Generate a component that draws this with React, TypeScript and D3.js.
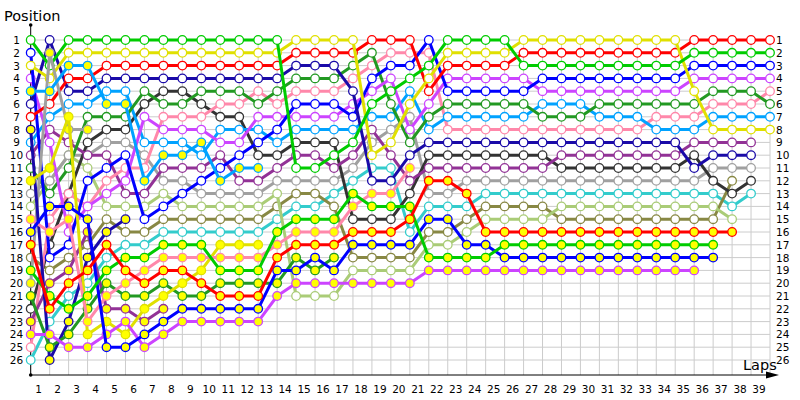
import React from "react";
import * as d3 from "d3";

const N = null;
// positions per column (col 0 = grid, then laps 1..39)
const G  = [1,3,1,1,1,1,1,1,1,1,1,1,1,1,11,11,10,9,6,5,4,3,1,1,1,1,3,3,3,3,3,3,3,3,3,2,2,2,2,2];
const Y  = [3,4,2,2,2,2,2,2,2,2,2,2,2,2,1,1,1,1,10,9,6,4,2,2,2,2,1,1,1,1,1,1,1,1,1,5,8,8,8,8];
const R  = [7,6,4,4,3,3,3,3,3,3,3,3,3,3,2,2,2,2,1,1,1,5,3,3,3,3,2,2,2,2,2,2,2,2,2,1,1,1,1,1];
const NV = [6,1,5,5,4,4,4,4,4,4,4,4,4,4,3,3,3,5,12,12,10,9,9,9,9,9,9,9,9,9,9,9,9,9,9,11,10,10,10,N];
const B  = [2,18,17,12,11,10,15,14,13,12,11,10,9,8,6,6,6,7,4,3,3,1,5,5,5,5,5,4,4,4,4,4,4,4,4,3,3,3,3,3];
const P  = [4,9,16,14,13,12,7,8,8,8,9,9,7,7,7,7,7,6,5,4,8,6,4,4,4,4,4,5,5,5,5,5,5,5,5,4,4,4,4,4];
const DG = [11,13,11,7,7,7,5,6,6,5,5,5,6,5,4,4,4,3,2,6,9,7,6,6,6,6,6,7,7,7,6,6,6,6,6,6,5,5,5,6];
const LB = [9,7,6,6,5,5,9,9,9,10,8,8,8,9,8,8,8,8,7,7,5,8,7,7,7,7,7,6,6,6,7,7,7,8,8,8,7,7,7,7];
const PK = [25,15,13,14,12,11,11,7,7,7,6,6,5,6,5,5,5,4,3,2,2,2,8,8,8,8,8,8,8,8,8,8,8,7,7,7,6,6,6,5];
const DP = [10,8,9,10,10,13,13,11,11,11,10,12,12,11,10,10,11,10,8,10,12,11,11,11,11,11,11,11,10,10,10,10,10,10,10,9,9,9,9,N];
const DK = [22,17,13,9,8,8,6,5,5,6,7,7,10,10,9,9,9,15,15,15,13,10,10,10,10,10,10,10,11,11,11,11,11,11,11,10,12,13,12,N];
const GR = [13,12,10,10,9,9,10,12,12,13,13,13,13,12,12,12,12,11,9,8,7,13,13,12,12,12,12,12,12,12,12,12,12,12,12,12,11,11,11,N];
const T  = [26,23,21,20,18,17,17,16,16,16,16,16,16,15,14,14,13,12,11,11,16,14,14,14,13,13,13,13,13,13,13,13,13,13,13,13,13,14,13,N];
const LO = [14,12,10,11,14,14,14,13,14,14,14,14,14,13,21,21,21,19,19,19,19,17,17,16,15,15,15,15,14,14,14,14,14,14,14,14,14,15,N,N];
const OL = [18,19,18,17,15,16,16,15,15,15,15,15,15,14,13,13,14,18,18,18,18,16,16,15,14,14,14,14,15,15,15,15,15,15,15,15,15,12,N,N];
const PKY = [15,16,15,23,21,20,19,18,18,18,18,18,18,17,16,16,16,14,13,13,11,N,N,N,N,N,N,N,N,N,N,N,N,N,N,N,N,N,N,N];
const RY = [17,22,20,19,17,19,20,19,19,20,21,21,21,18,17,17,17,16,16,16,15,12,12,13,16,16,16,16,16,16,16,16,16,16,16,16,16,16,N,N];
const GY = [19,21,22,21,19,18,18,17,17,17,19,19,19,16,15,15,15,13,14,14,14,18,18,18,18,17,17,17,17,17,17,17,17,17,17,17,17,N,N,N];
const BY = [16,14,14,15,25,25,24,23,22,22,22,22,22,19,19,18,19,17,17,17,17,15,15,17,17,18,18,18,18,18,18,18,18,18,18,18,18,N,N,N];
const PY = [24,24,25,25,24,23,25,24,23,23,23,23,23,21,20,20,20,20,20,20,20,19,19,19,19,19,19,19,19,19,19,19,19,19,19,19,N,N,N,N];
const YY = [12,11,7,24,23,24,22,21,20,19,17,17,17,N,N,N,N,N,N,N,N,N,N,N,N,N,N,N,N,N,N,N,N,N,N,N,N,N,N,N];
const DGY = [21,25,24,22,20,21,21,20,21,21,20,20,20,20,18,19,18,N,N,N,N,N,N,N,N,N,N,N,N,N,N,N,N,N,N,N,N,N,N,N];
const LBY = [5,5,3,3,6,6,12,10,10,9,12,11,11,N,N,N,N,N,N,N,N,N,N,N,N,N,N,N,N,N,N,N,N,N,N,N,N,N,N,N];
const NVY = [8,26,23,18,16,15,N,N,N,N,N,N,N,N,N,N,N,N,N,N,N,N,N,N,N,N,N,N,N,N,N,N,N,N,N,N,N,N,N,N];
const DPY = [23,20,19,16,22,22,23,22,N,N,N,N,N,N,N,N,N,N,N,N,N,N,N,N,N,N,N,N,N,N,N,N,N,N,N,N,N,N,N,N];
const GRY = [20,2,8,8,N,N,N,N,N,N,N,N,N,N,N,N,N,N,N,N,N,N,N,N,N,N,N,N,N,N,N,N,N,N,N,N,N,N,N,N];

const lapLabels = d3.range(1, 40);
const positions = d3.range(1, 27);

const WHITE = "#ffffff";
const YEL = "#ffff00";
const series = [
  { data: T, color: "#33cccc", fill: WHITE },
  { data: OL, color: "#888844", fill: WHITE },
  { data: LO, color: "#aacc77", fill: WHITE },
  { data: GR, color: "#a0a0a0", fill: WHITE },
  { data: DK, color: "#333333", fill: WHITE },
  { data: DP, color: "#923296", fill: WHITE },
  { data: PK, color: "#ff88aa", fill: WHITE },
  { data: LB, color: "#00a2ff", fill: WHITE },
  { data: DG, color: "#229922", fill: WHITE },
  { data: P, color: "#cc44ff", fill: WHITE },
  { data: B, color: "#0000ff", fill: WHITE },
  { data: NV, color: "#1a0aa8", fill: WHITE },
  { data: R, color: "#ff0000", fill: WHITE },
  { data: Y, color: "#e0e000", fill: WHITE },
  { data: G, color: "#00cc00", fill: WHITE },
  { data: GRY, color: "#a0a0a0", fill: YEL },
  { data: DPY, color: "#923296", fill: YEL },
  { data: NVY, color: "#1a0aa8", fill: YEL },
  { data: LBY, color: "#00a2ff", fill: YEL },
  { data: DGY, color: "#229922", fill: YEL },
  { data: YY, color: "#e0e000", fill: YEL },
  { data: PKY, color: "#ff88aa", fill: YEL },
  { data: PY, color: "#cc44ff", fill: YEL },
  { data: BY, color: "#0000ff", fill: YEL },
  { data: GY, color: "#00cc00", fill: YEL },
  { data: RY, color: "#ff0000", fill: YEL },
];

export default function App() {
  const W = 800, H = 400;
  const x = d3.scaleLinear().domain([0, 39]).range([30.7, 770]);
  const y = d3.scaleLinear().domain([1, 26]).range([40, 360]);
  const axisY = 375;
  const line = d3
    .line<[number, number | null]>()
    .defined((d) => d[1] != null)
    .x((d) => x(d[0]))
    .y((d) => y(d[1] as number));
  const cols = d3.range(0, 40);
  return (
    <svg width={W} height={H} style={{ position: "absolute", left: 0, top: 0, background: "#fff" }} fontFamily="DejaVu Sans">
      <rect x={0} y={0} width={W} height={H} fill="#fff" />
      {positions.map((p) => (
        <line key={"h" + p} x1={x(0)} x2={x(39)} y1={y(p)} y2={y(p)} stroke="#cccccc" strokeWidth={1} />
      ))}
      {cols.map((c) => (
        <line key={"v" + c} x1={x(c)} x2={x(c)} y1={y(1)} y2={axisY} stroke="#cccccc" strokeWidth={1} />
      ))}
      <line x1={x(0)} x2={x(0)} y1={25} y2={axisY} stroke="#000" strokeWidth={1} />
      <circle cx={x(0)} cy={25} r={1.8} fill="#000" />
      <circle cx={x(0)} cy={axisY} r={1.8} fill="#000" />
      <line x1={x(0)} x2={772} y1={axisY} y2={axisY} stroke="#000" strokeWidth={1} />
      <polygon points={`779,${axisY} 766,${axisY - 3.5} 766,${axisY + 3.5}`} fill="#000" />
      <text x={4} y={21} fontSize={14.5} fill="#000">Position</text>
      <text x={743} y={370} fontSize={14.5} fill="#000">Laps</text>
      {positions.map((p) => (
        <text key={"yl" + p} x={16.5} y={y(p)} fontSize={10.5} textAnchor="middle" dominantBaseline="central" fill="#000">{p}</text>
      ))}
      {positions.map((p) => (
        <text key={"yr" + p} x={776} y={y(p)} fontSize={10.5} textAnchor="start" dominantBaseline="central" fill="#000">{p}</text>
      ))}
      {lapLabels.map((k) => (
        <text key={"xl" + k} x={x(k - 1) + 8} y={393} fontSize={10.5} textAnchor="middle" fill="#000">{k}</text>
      ))}
      {series.map((s, i) => {
        const pts: [number, number | null][] = s.data.map((v, c) => [c, v]);
        return (
          <g key={"s" + i}>
            <path d={line(pts) || ""} fill="none" stroke={s.color} strokeWidth={3} strokeLinejoin="round" />
            {pts.filter((d) => d[1] != null).map((d) => (
              <circle key={d[0]} cx={x(d[0])} cy={y(d[1] as number)} r={4.3} fill={s.fill} stroke={s.color} strokeWidth={1.3} />
            ))}
          </g>
        );
      })}
    </svg>
  );
}
